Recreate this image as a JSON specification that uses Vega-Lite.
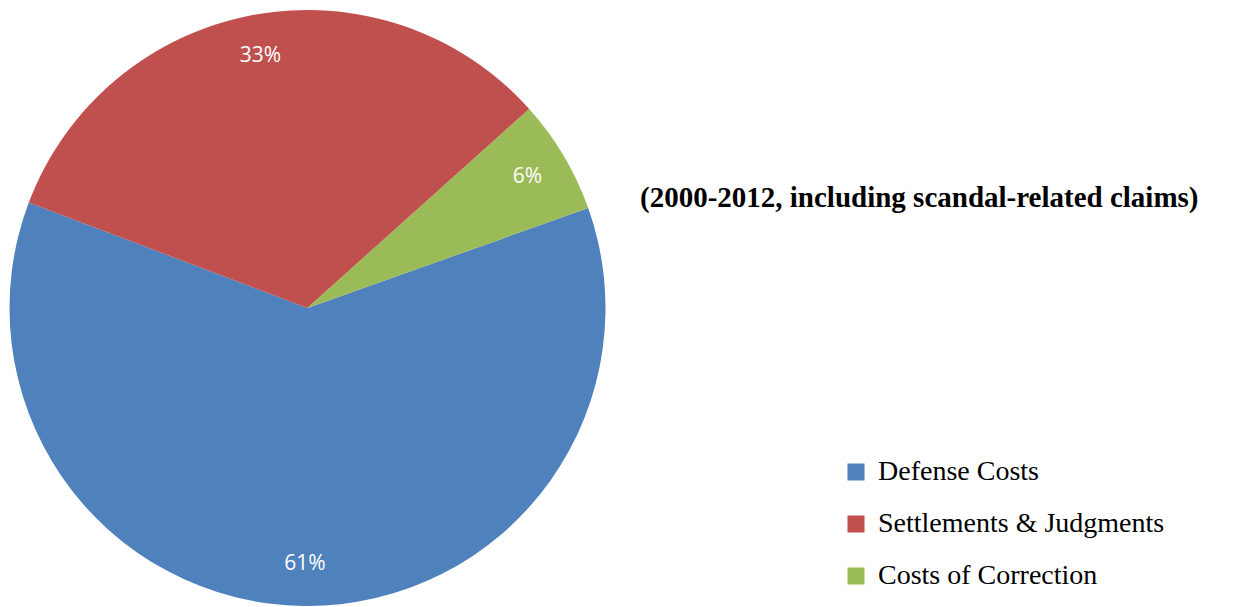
{
  "$schema": "https://vega.github.io/schema/vega-lite/v6.json",
  "width": 615,
  "height": 616,
  "padding": 0,
  "autosize": {"type": "pad"},
  "background": "white",
  "data": {
    "values": [
      {"category": "Defense Costs", "share": 0.612},
      {"category": "Settlements & Judgments", "share": 0.326},
      {"category": "Costs of Correction", "share": 0.062}
    ]
  },
  "title": {
    "text": "(2000-2012, including scandal-related claims)",
    "anchor": "start",
    "frame": "group",
    "orient": "top",
    "dx": 640,
    "dy": 236,
    "offset": 0,
    "baseline": "alphabetic",
    "font": "Liberation Serif",
    "fontSize": 29,
    "fontWeight": "bold",
    "color": "black"
  },
  "encoding": {
    "theta": {
      "field": "share",
      "type": "quantitative",
      "stack": true,
      "scale": {"range": [1.2287, 7.5119]}
    },
    "order": {"field": "share", "sort": "descending"}
  },
  "layer": [
    {
      "mark": {"type": "arc", "outerRadius": 298},
      "encoding": {
        "color": {
          "field": "category",
          "type": "nominal",
          "scale": {
            "domain": ["Defense Costs", "Settlements & Judgments", "Costs of Correction"],
            "range": ["#4F81BD", "#C0504D", "#9BBB59"]
          },
          "legend": {
            "orient": "none",
            "legendX": 842,
            "legendY": 458,
            "title": null,
            "symbolType": "square",
            "symbolSize": 289,
            "symbolStrokeWidth": 0,
            "symbolOpacity": 1,
            "labelFont": "Liberation Serif",
            "labelFontSize": 28,
            "labelColor": "black",
            "labelLimit": 400,
            "rowPadding": 24,
            "labelOffset": 8
          }
        }
      }
    },
    {
      "mark": {"type": "text", "radius": 256, "font": "Open Sans", "fontSize": 21, "fill": "white"},
      "encoding": {
        "text": {"field": "share", "type": "quantitative", "format": ".0%"},
        "detail": {"field": "category", "type": "nominal"}
      }
    }
  ],
  "config": {"view": {"stroke": null}}
}
